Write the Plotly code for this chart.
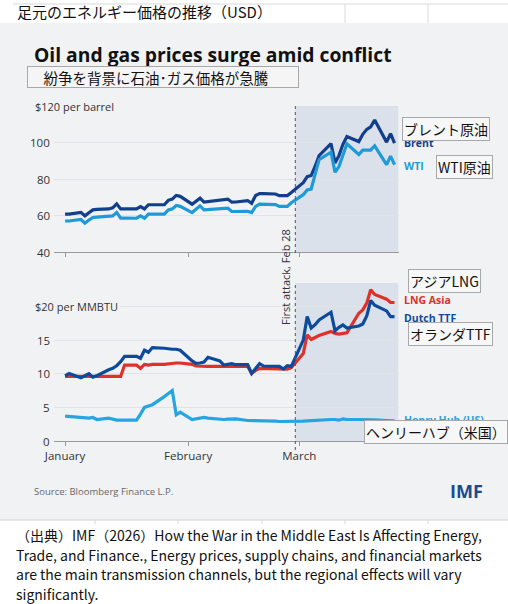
import plotly.graph_objects as go

W, H = 508, 604

dates = ["2026-01-01", "2026-01-02", "2026-01-05", "2026-01-06", "2026-01-07", "2026-01-08", "2026-01-09",
         "2026-01-12", "2026-01-13", "2026-01-14", "2026-01-15", "2026-01-16", "2026-01-19", "2026-01-20",
         "2026-01-21", "2026-01-22", "2026-01-23", "2026-01-26", "2026-01-27", "2026-01-28", "2026-01-29",
         "2026-01-30", "2026-02-02", "2026-02-03", "2026-02-04", "2026-02-05", "2026-02-06", "2026-02-09",
         "2026-02-10", "2026-02-11", "2026-02-12", "2026-02-13", "2026-02-16", "2026-02-17", "2026-02-18",
         "2026-02-19", "2026-02-20", "2026-02-23", "2026-02-24", "2026-02-25", "2026-02-26", "2026-02-27",
         "2026-03-02", "2026-03-03", "2026-03-04", "2026-03-05", "2026-03-06", "2026-03-09", "2026-03-10",
         "2026-03-11", "2026-03-12", "2026-03-13", "2026-03-16", "2026-03-17", "2026-03-18", "2026-03-19",
         "2026-03-20", "2026-03-23", "2026-03-24", "2026-03-25"]

brent = [60.8, 60.8, 61.7, 59.8, 61.5, 63.1, 63.4, 63.6, 64.2, 66.4, 63.6, 63.7, 63.6, 64.9, 63.6, 65.9,
         65.8, 65.9, 68.3, 69.0, 71.0, 70.5,
         66.2, 68.0, 69.5, 67.3, 67.6, 68.5, 69.0, 69.0, 67.3, 67.4, 68.2, 66.7, 71.0, 72.0, 72.0, 71.8,
         70.9, 70.9, 70.9, 72.6,
         78.0, 81.3, 81.9, 87.0, 92.8, 99.4, 88.8, 92.8, 99.0, 103.3, 100.5, 104.5, 107.2, 108.6, 112.3,
         100.2, 104.8, 99.6]

wti = [57.0, 57.0, 57.8, 55.8, 57.5, 58.9, 59.1, 59.4, 59.8, 61.7, 58.6, 58.6, 58.5, 59.8, 58.5, 60.8,
       60.7, 60.8, 63.1, 63.6, 65.5, 65.0,
       61.6, 63.2, 65.3, 63.1, 63.3, 63.8, 64.0, 64.0, 62.2, 62.3, 62.3, 61.6, 65.0, 66.2, 66.2, 66.0,
       65.0, 65.0, 65.0, 67.0,
       71.4, 74.0, 74.5, 82.5, 90.6, 94.7, 83.7, 86.8, 93.5, 99.3, 93.4, 95.8, 95.8, 95.8, 98.2,
       87.9, 92.5, 87.9]

ttf = [9.7, 10.05, 9.4, 9.7, 10.0, 9.5, 9.7, 10.6, 10.8, 11.2, 11.8, 12.6, 12.6, 12.3, 13.5, 13.2,
       13.9, 13.8, 13.7, 13.65, 13.65, 13.5,
       11.9, 11.55, 11.6, 11.75, 12.45, 11.9, 11.3, 11.4, 11.5, 11.35, 11.35, 10.05, 10.8, 11.5, 11.15,
       11.1, 11.1, 10.7, 11.2, 11.1,
       15.0, 18.5, 16.8, 17.3, 18.0, 19.15, 16.4, 16.9, 17.25, 16.8, 17.1, 17.4, 18.6, 20.9, 20.2,
       19.35, 18.5, 18.5]

lng_asia = [9.6, 9.6, 9.6, 9.5, 9.5, 9.5, 9.5, 9.6, 9.6, 9.6, 9.6, 11.3, 11.3, 10.8, 11.4, 11.3,
            11.4, 11.4, 11.5, 11.55, 11.6, 11.6,
            11.4, 11.15, 11.1, 11.1, 11.1, 11.1, 11.1, 11.1, 11.1, 11.1, 11.1, 10.05, 10.5, 10.8, 10.8,
            10.75, 10.7, 10.7, 10.7, 10.9,
            13.0, 15.8, 15.1, 15.4, 15.7, 16.3, 16.0, 15.9, 16.0, 16.1, 19.0, 19.5, 20.5, 22.5, 21.8,
            21.1, 20.6, 20.6]

henry_hub = [3.7, 3.65, 3.5, 3.5, 3.4, 3.5, 3.2, 3.4, 3.2, 3.1, 3.1, 3.1, 3.1, 4.0, 5.0, 5.2,
             5.4, 6.6, 7.0, 7.5, 3.9, 4.3,
             3.2, 3.3, 3.5, 3.5, 3.4, 3.2, 3.2, 3.25, 3.3, 3.3, 3.05, 3.05, 3.0, 3.0, 3.0,
             2.95, 2.9, 2.9, 2.85, 2.9,
             2.95, 3.0, 3.05, 3.0, 3.1, 3.2, 3.2, 3.1, 3.3, 3.2, 3.2, 3.2, 3.15, 3.2, 3.15,
             3.05, 3.0, 3.0]

oil_ticks = [40, 60, 80, 100, 120]
oil_tick_text = ["40", "60", "80", "100", "$120 per barrel"]
gas_ticks = [0, 5, 10, 15, 20]
gas_tick_text = ["0", "5", "10", "15", "$20 per MMBTU"]
month_ticks = ["2026-01-01", "2026-02-01", "2026-03-01"]
month_text = ["January", "February", "March"]
attack_date = "2026-02-28"
shade_end = "2026-03-26"

caption_lines = [
    "（出典）IMF（2026）How the War in the Middle East Is Affecting Energy,",
    "Trade, and Finance., Energy prices, supply chains, and financial markets",
    "are the main transmission channels, but the regional effects will vary",
    "significantly.",
]

C_BRENT = "#123f8c"
C_WTI = "#1f9ad8"
C_LNG = "#e0302a"
C_TTF = "#0d4a9c"
C_HH = "#27a4e2"
PANEL = "#f1f2f4"
SHADE = "#dae1ea"
GRID = "#e1e3e7"
FONT = "Open Sans"
JFONT = "Noto Sans CJK JP"


def px(x):
    return x / W


def py(y):
    return 1 - y / H


fig = go.Figure()
fig.add_trace(go.Scatter(x=dates, y=brent, mode="lines", line=dict(color=C_BRENT, width=3.2), xaxis="x", yaxis="y"))
fig.add_trace(go.Scatter(x=dates, y=wti, mode="lines", line=dict(color=C_WTI, width=3.2), xaxis="x", yaxis="y"))
fig.add_trace(go.Scatter(x=dates, y=henry_hub, mode="lines", line=dict(color=C_HH, width=3.2), xaxis="x2", yaxis="y2"))
fig.add_trace(go.Scatter(x=dates, y=lng_asia, mode="lines", line=dict(color=C_LNG, width=3.2), xaxis="x2", yaxis="y2"))
fig.add_trace(go.Scatter(x=dates, y=ttf, mode="lines", line=dict(color=C_TTF, width=3.2), xaxis="x2", yaxis="y2"))

xr = ["2025-12-29 05:00", shade_end]
xdom = [px(54), px(398.5)]
xaxis_common = dict(range=xr, domain=xdom, type="date", showgrid=False, zeroline=False, automargin=False,
                    showline=True, linecolor="#9a9a9a", linewidth=1,
                    ticks="outside", ticklen=4, tickcolor="#9a9a9a", tickvals=month_ticks)

shapes = [
    dict(type="rect", xref="paper", yref="paper", x0=0, x1=1, y0=py(520), y1=py(23),
         fillcolor=PANEL, line=dict(width=0), layer="below"),
    dict(type="rect", xref="x", yref="y", x0=attack_date, x1=shade_end, y0=40, y1=120,
         fillcolor=SHADE, line=dict(width=0), layer="below"),
    dict(type="rect", xref="x2", yref="y2", x0=attack_date, x1=shade_end, y0=0, y1=23.5,
         fillcolor=SHADE, line=dict(width=0), layer="below"),
    dict(type="line", xref="x", yref="paper", x0=attack_date, x1=attack_date, y0=py(253), y1=py(106),
         line=dict(color="#555", width=1, dash="dot")),
    dict(type="line", xref="x2", yref="paper", x0=attack_date, x1=attack_date, y0=py(450), y1=py(283),
         line=dict(color="#555", width=1, dash="dot")),
    # spreadsheet cell borders
    dict(type="line", xref="paper", yref="paper", x0=px(13), x1=1, y0=py(4), y1=py(4),
         line=dict(color="#d9d9d9", width=1)),
    dict(type="line", xref="paper", yref="paper", x0=0, x1=1, y0=py(520), y1=py(520),
         line=dict(color="#d0d0d0", width=1)),
]
for vx in [345, 428]:
    shapes.append(dict(type="line", xref="paper", yref="paper", x0=px(vx), x1=px(vx), y0=py(23), y1=py(4),
                       line=dict(color="#d9d9d9", width=1)))
for vx in [95, 178, 262, 345, 428]:
    shapes.append(dict(type="line", xref="paper", yref="paper", x0=px(vx), x1=px(vx), y0=py(524), y1=py(520),
                       line=dict(color="#d9d9d9", width=1)))

ann = []


def text(x, y, s, size=11, color="#333", xanchor="left", family=FONT, **kw):
    ann.append(dict(x=px(x), y=py(y), xref="paper", yref="paper", text=s, showarrow=False,
                    xanchor=xanchor, yanchor="middle", font=dict(size=size, color=color, family=family), **kw))


def box(x, y, s, size=14, **kw):
    ann.append(dict(x=px(x), y=py(y), xref="paper", yref="paper", text=s, showarrow=False,
                    xanchor="center", yanchor="middle", font=dict(size=size, color="#111", family=JFONT),
                    bgcolor="#f7f7f7", bordercolor="#a8a8a8", borderwidth=1, borderpad=1, **kw))


text(15, 12, "足元のエネルギー価格の推移（USD）", size=15, color="#111", family=JFONT)
text(32, 55, "<b>Oil and gas prices surge amid conflict</b>", size=19.3, color="#111")
ann.append(dict(x=px(27), y=py(77), xref="paper", yref="paper", text="　紛争を背景に石油･ガス価格が急騰",
                showarrow=False, xanchor="left", yanchor="middle", align="left", width=268, height=18,
                font=dict(size=14.5, color="#111", family=JFONT),
                bgcolor="#f5f5f5", bordercolor="#a8a8a8", borderwidth=1, borderpad=1))

# y tick labels
ya_pix = {40: 252, 60: 215.7, 80: 179.3, 100: 143, 120: 106}
for v, t in zip(oil_ticks, oil_tick_text):
    if v == 120:
        text(32, ya_pix[v], t, size=11, color="#333", bgcolor=PANEL, borderpad=2)
    else:
        text(52, ya_pix[v], t, size=11.5, color="#333", xanchor="right")
ga_pix = {0: 441, 5: 407.4, 10: 373.8, 15: 340.1, 20: 306.5}
for v, t in zip(gas_ticks, gas_tick_text):
    if v == 20:
        text(32, ga_pix[v], t, size=11, color="#333", bgcolor=PANEL, borderpad=2)
    else:
        text(52, ga_pix[v], t, size=11.5, color="#333", xanchor="right")

# series labels
text(402, 143, "<b>Brent</b>", size=10.5, color=C_BRENT)
text(402, 166, "<b>WTI</b>", size=10.5, color=C_WTI)
text(402, 300, "<b>LNG Asia</b>", size=10.5, color=C_LNG)
text(402, 318, "<b>Dutch TTF</b>", size=10.5, color=C_TTF)
text(402, 420, "<b>Henry Hub (US)</b>", size=10.5, color=C_HH)

box(446, 129, "ブレント原油")
box(464, 167, "WTI原油")
box(444, 281, "アジアLNG")
box(450, 334, "オランダTTF")
box(436, 432, "ヘンリーハブ（米国）")

ann.append(dict(x=px(285), y=py(277), xref="paper", yref="paper", text="First attack, Feb 28", showarrow=False,
                textangle=-90, xanchor="center", yanchor="middle", font=dict(size=11, color="#333", family=FONT)))

text(32, 491, "Source: Bloomberg Finance L.P.", size=9.5, color="#666")
text(466, 491, "<b>IMF</b>", size=18, color="#1b4a8e", xanchor="center")

for i, line in enumerate(caption_lines):
    text(14, 535 + i * 19.5, line, size=14, color="#111", family=JFONT)

fig.update_layout(
    width=W, height=H, margin=dict(l=0, r=0, t=0, b=0, autoexpand=False),
    paper_bgcolor="white", plot_bgcolor="rgba(0,0,0,0)", showlegend=False,
    xaxis=dict(**xaxis_common, showticklabels=False, anchor="y"),
    yaxis=dict(domain=[py(252), py(106)], range=[40, 120], tickvals=[60, 80, 100, 120], showticklabels=False,
               showgrid=True, gridcolor=GRID, zeroline=False, anchor="x", automargin=False),
    xaxis2=dict(**xaxis_common, ticktext=month_text, anchor="y2",
                tickfont=dict(size=11.5, color="#333", family=FONT)),
    yaxis2=dict(domain=[py(441), py(283)], range=[0, 23.5], tickvals=[5, 10, 15, 20], showticklabels=False,
                showgrid=True, gridcolor=GRID, zeroline=False, anchor="x2", automargin=False),
    shapes=shapes, annotations=ann,
)

fig.write_html("out.html", config={"displayModeBar": False},
               post_script="document.body.style.margin='0';document.body.style.overflow='hidden';")
